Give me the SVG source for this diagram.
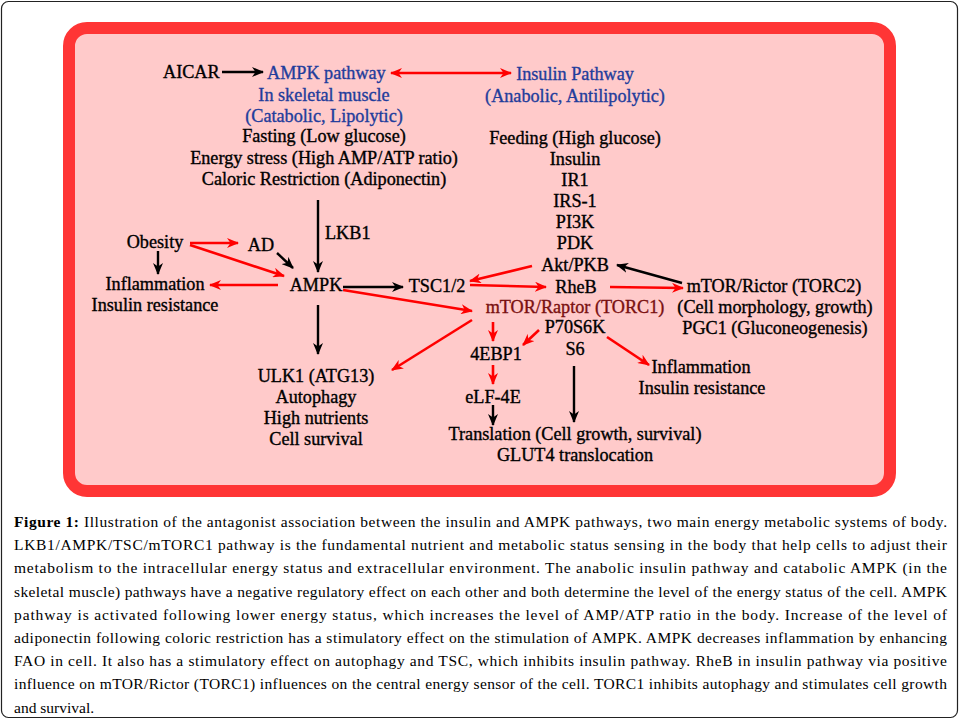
<svg xmlns="http://www.w3.org/2000/svg" width="960" height="719" viewBox="0 0 960 719">
<style>
.t{font-family:"Liberation Serif","Times New Roman",serif;font-size:18.2px;fill:#000;stroke:#000;stroke-width:0.35}
.m{text-anchor:middle}
.b{fill:#1f3d9c;stroke:#1f3d9c}
.dr{fill:#7a1010;stroke:#7a1010}
.cap{font-family:"Liberation Serif","Times New Roman",serif;font-size:15.5px;fill:#000}
.k{stroke:#000;stroke-width:2.4;fill:none;marker-end:url(#ak)}
.r{stroke:#ff0000;stroke-width:2.6;fill:none;marker-end:url(#ar)}
</style>
<defs>
<marker id="ak" markerUnits="userSpaceOnUse" viewBox="0 0 12 10" refX="11" refY="5" markerWidth="12" markerHeight="10" orient="auto-start-reverse">
<path d="M0,0 L12,5 L0,10 L3.5,5 Z" fill="#000"/>
</marker>
<marker id="ar" markerUnits="userSpaceOnUse" viewBox="0 0 12 10" refX="11" refY="5" markerWidth="12" markerHeight="10" orient="auto-start-reverse">
<path d="M0,0 L12,5 L0,10 L3.5,5 Z" fill="#ff0000"/>
</marker>
</defs>
<rect x="0" y="0" width="960" height="719" fill="#fff"/>
<rect x="1.5" y="1.5" width="956" height="716" rx="7" fill="#fff" stroke="#222" stroke-width="1.2"/>
<rect id="panel" x="69" y="28" width="821" height="463" rx="18" fill="#ffcaca" stroke="#ff3535" stroke-width="12"/>

<g id="connectors">
<path class="k" d="M222,72 L263,72"/>
<path class="r" d="M391,73 L511,73" marker-start="url(#ar)"/>
<path class="k" d="M318,200 L318,272"/>
<path class="r" d="M190,243 L238,243"/>
<path class="r" d="M190,245 L284,276"/>
<path class="k" d="M277,253 L293,268"/>
<path class="k" d="M158,251 L158,274"/>
<path class="r" d="M278,285 L210,285"/>
<path class="k" d="M343,287 L403,287"/>
<path class="r" d="M532,266 L470,281"/>
<path class="r" d="M470,285 L546,287"/>
<path class="r" d="M610,287 L683,288"/>
<path class="k" d="M682,283 L617,265"/>
<path class="r" d="M343,290 L472,311"/>
<path class="r" d="M472,320 L392,370"/>
<path class="r" d="M493,322 L493,341"/>
<path class="r" d="M539,330 L523,345"/>
<path class="r" d="M607,337 L649,365"/>
<path class="k" d="M318,305 L318,354"/>
<path class="r" d="M493,365 L493,384"/>
<path class="k" d="M493,405 L493,425"/>
<path class="k" d="M574,366 L574,422"/>
</g>

<g id="aicar"><text class="t" x="163" y="78">AICAR</text></g>
<g id="ampk-pathway">
<text class="t b" x="267" y="79">AMPK pathway</text>
<text class="t b m" x="324" y="101">In skeletal muscle</text>
<text class="t b m" x="324" y="122">(Catabolic, Lipolytic)</text>
<text class="t m" x="324" y="142">Fasting (Low glucose)</text>
<text class="t m" x="324" y="164">Energy stress (High AMP/ATP ratio)</text>
<text class="t m" x="324" y="185">Caloric Restriction (Adiponectin)</text>
</g>
<g id="insulin-pathway">
<text class="t b m" x="575" y="80">Insulin Pathway</text>
<text class="t b m" x="575" y="102">(Anabolic, Antilipolytic)</text>
<text class="t m" x="575" y="144">Feeding (High glucose)</text>
<text class="t m" x="575" y="165">Insulin</text>
<text class="t m" x="575" y="186">IR1</text>
<text class="t m" x="575" y="207">IRS-1</text>
<text class="t m" x="575" y="228">PI3K</text>
<text class="t m" x="575" y="249">PDK</text>
<text class="t m" x="575" y="271">Akt/PKB</text>
</g>
<g id="lkb1"><text class="t" x="325" y="239">LKB1</text></g>
<g id="obesity"><text class="t m" x="155" y="248">Obesity</text></g>
<g id="ad"><text class="t m" x="261" y="251">AD</text></g>
<g id="inflammation-left">
<text class="t m" x="155" y="290">Inflammation</text>
<text class="t m" x="155" y="311">Insulin resistance</text>
</g>
<g id="ampk"><text class="t m" x="316" y="291">AMPK</text></g>
<g id="tsc"><text class="t m" x="437" y="292">TSC1/2</text></g>
<g id="rheb"><text class="t m" x="576" y="293">RheB</text></g>
<g id="torc2">
<text class="t m" x="774" y="292">mTOR/Rictor (TORC2)</text>
<text class="t m" x="775" y="313">(Cell morphology, growth)</text>
<text class="t m" x="775" y="334">PGC1 (Gluconeogenesis)</text>
</g>
<g id="torc1"><text class="t dr m" x="575" y="313">mTOR/Raptor (TORC1)</text></g>
<g id="p70s6k">
<text class="t m" x="575" y="333">P70S6K</text>
<text class="t m" x="575" y="355">S6</text>
</g>
<g id="4ebp1"><text class="t m" x="496" y="360">4EBP1</text></g>
<g id="inflammation-right">
<text class="t m" x="701" y="373">Inflammation</text>
<text class="t m" x="702" y="394">Insulin resistance</text>
</g>
<g id="ulk1">
<text class="t m" x="316" y="382">ULK1 (ATG13)</text>
<text class="t m" x="316" y="403">Autophagy</text>
<text class="t m" x="316" y="424">High nutrients</text>
<text class="t m" x="316" y="445">Cell survival</text>
</g>
<g id="elf4e"><text class="t m" x="493" y="403">eLF-4E</text></g>
<g id="translation">
<text class="t m" x="575" y="440">Translation (Cell growth, survival)</text>
<text class="t m" x="575" y="461">GLUT4 translocation</text>
</g>

<g id="caption">
<text class="cap" x="14" y="527" textLength="933" lengthAdjust="spacing"><tspan font-weight="bold">Figure 1:</tspan> Illustration of the antagonist association between the insulin and AMPK pathways, two main energy metabolic systems of body.</text>
<text class="cap" x="14" y="550.2" textLength="933" lengthAdjust="spacing">LKB1/AMPK/TSC/mTORC1 pathway is the fundamental nutrient and metabolic status sensing in the body that help cells to adjust their</text>
<text class="cap" x="14" y="573.4" textLength="933" lengthAdjust="spacing">metabolism to the intracellular energy status and extracellular environment. The anabolic insulin pathway and catabolic AMPK (in the</text>
<text class="cap" x="14" y="596.6" textLength="933" lengthAdjust="spacing">skeletal muscle) pathways have a negative regulatory effect on each other and both determine the level of the energy status of the cell. AMPK</text>
<text class="cap" x="14" y="619.8" textLength="933" lengthAdjust="spacing">pathway is activated following lower energy status, which increases the level of AMP/ATP ratio in the body. Increase of the level of</text>
<text class="cap" x="14" y="643" textLength="933" lengthAdjust="spacing">adiponectin following coloric restriction has a stimulatory effect on the stimulation of AMPK. AMPK decreases inflammation by enhancing</text>
<text class="cap" x="14" y="666.2" textLength="933" lengthAdjust="spacing">FAO in cell. It also has a stimulatory effect on autophagy and TSC, which inhibits insulin pathway. RheB in insulin pathway via positive</text>
<text class="cap" x="14" y="689.4" textLength="933" lengthAdjust="spacing">influence on mTOR/Rictor (TORC1) influences on the central energy sensor of the cell. TORC1 inhibits autophagy and stimulates cell growth</text>
<text class="cap" x="14" y="712.6">and survival.</text>
</g>
</svg>
